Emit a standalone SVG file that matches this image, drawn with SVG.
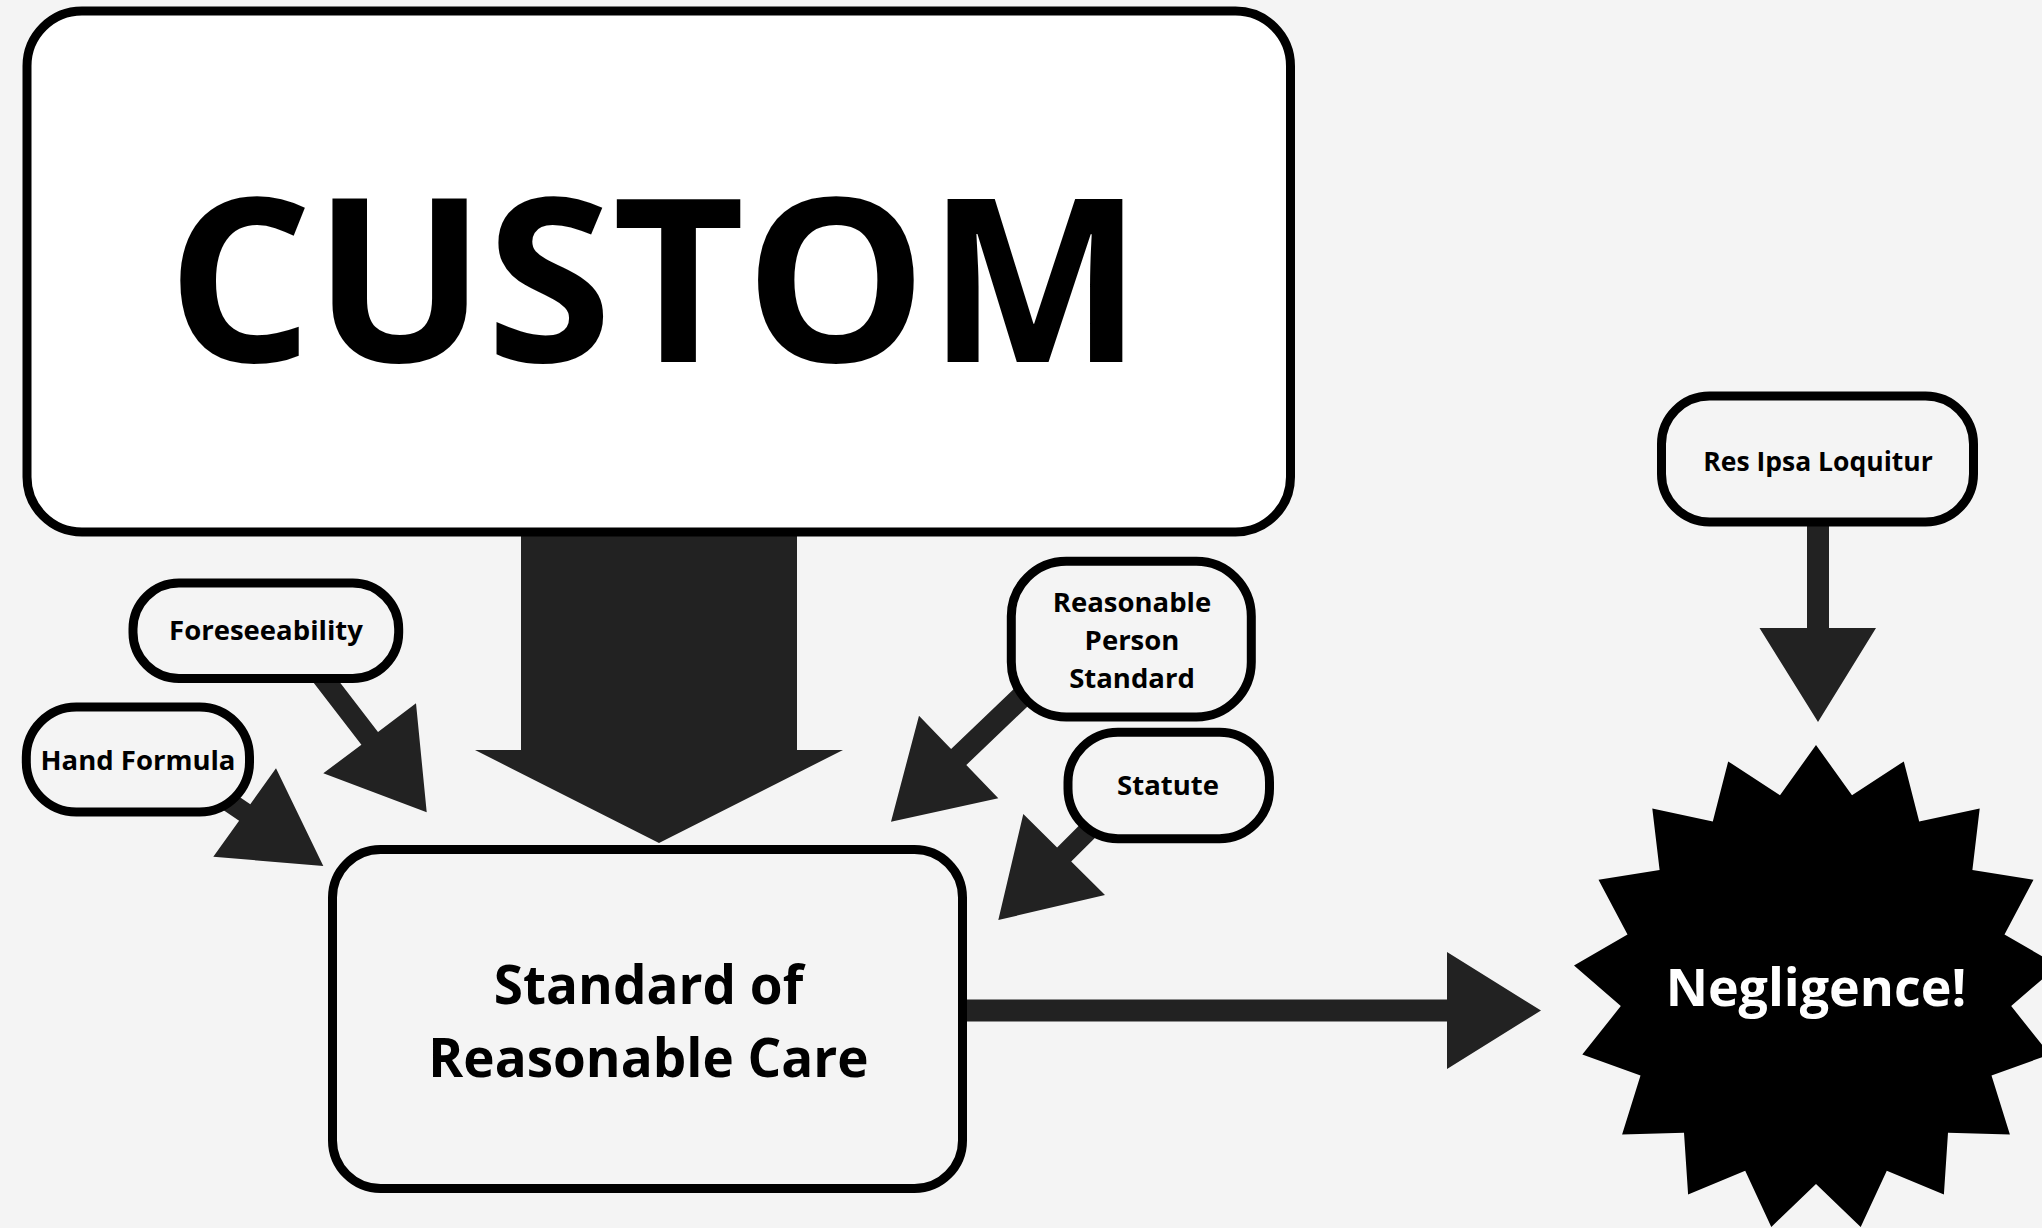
<svg xmlns="http://www.w3.org/2000/svg" width="2042" height="1228" viewBox="0 0 2042 1228">
<style>
.node{stroke:#000;stroke-width:9;fill:#f4f4f4}
.lbl{font-family:"Open Sans","Liberation Sans",sans-serif;font-weight:700;fill:#000;text-anchor:middle}
.sm{font-size:27.5px}
.conn{fill:#222}
</style>
<rect width="2042" height="1228" fill="#f4f4f4"/>
<g id="connectors" class="conn">
<polygon points="521,532 797,532 797,750 843,750 659,843 475,750 521,750"/>
<polygon points="964,999.5 1447,999.5 1447,952 1541,1010.5 1447,1069 1447,1021.5 964,1021.5"/>
<polygon points="1807,522 1829,522 1829,628 1876,628 1818,722 1759.5,628 1807,628"/>
<polygon points="323.1,660.6 378,731.9 416,703.3 426.7,812.3 323.3,773.3 361.4,744.7 306.5,673.4"/>
<polygon points="213.1,778.9 250.3,804.2 276,768.3 323.3,866 213.3,856.7 239.1,820.8 201.9,795.5"/>
<polygon points="1023.4,679.9 951.1,749 919,715.7 891,821.7 998.3,798.3 966.3,765 1038.6,695.9"/>
<polygon points="1092.6,812.1 1057.1,847.4 1023.3,814 998.3,920 1105,895 1071.2,861.6 1106.7,826.3"/>
</g>
<g id="custom">
<rect x="27" y="11" width="1263.5" height="521" rx="55" class="node" style="fill:#fff"/>
<text x="655" y="362" class="lbl" font-size="229">CUSTOM</text>
</g>
<g id="foreseeability">
<rect x="133" y="583" width="265.7" height="95.5" rx="46" class="node"/>
<text x="266" y="640" class="lbl sm">Foreseeability</text>
</g>
<g id="hand-formula">
<rect x="26.3" y="707" width="223.2" height="105" rx="50" class="node"/>
<text x="138" y="770" class="lbl sm">Hand Formula</text>
</g>
<g id="reasonable-person">
<rect x="1011.3" y="561.3" width="240" height="155.7" rx="55" class="node"/>
<text class="lbl sm" x="1132"><tspan x="1132" y="611.7">Reasonable</tspan><tspan x="1132" y="650">Person</tspan><tspan x="1132" y="688.3">Standard</tspan></text>
</g>
<g id="statute">
<rect x="1068" y="732.2" width="201.5" height="106.5" rx="50" class="node"/>
<text x="1168" y="795" class="lbl sm">Statute</text>
</g>
<g id="res-ipsa">
<rect x="1661.5" y="396" width="312" height="126" rx="48" class="node"/>
<text x="1818" y="470.7" class="lbl" font-size="26.5">Res Ipsa Loquitur</text>
</g>
<g id="standard">
<rect x="332.5" y="849.5" width="630" height="339" rx="48" class="node"/>
<text class="lbl" font-size="53"><tspan x="648.5" y="1004">Standard of</tspan><tspan x="648.5" y="1077">Reasonable Care</tspan></text>
</g>
<g id="negligence">
<polygon fill="#000" points="1816,745 1852.0,795.3 1903.8,761.4 1919.2,821.4 1979.7,808.4 1972.4,869.9 2033.5,879.7 2004.5,934.4 2058.0,965.6 2011.2,1006.1 2049.7,1054.5 1991.5,1075.4 2009.9,1134.4 1948.0,1132.8 1943.9,1194.6 1886.8,1170.8 1860.7,1226.9 1816,1184 1771.3,1226.9 1745.2,1170.8 1688.1,1194.6 1684.0,1132.8 1622.1,1134.4 1640.5,1075.4 1582.3,1054.5 1620.8,1006.1 1574.0,965.6 1627.5,934.4 1598.5,879.7 1659.6,869.9 1652.3,808.4 1712.8,821.4 1728.2,761.4 1780.0,795.3"/>
<text x="1816" y="1006" class="lbl" font-size="52" style="fill:#fff">Negligence!</text>
</g>
</svg>
